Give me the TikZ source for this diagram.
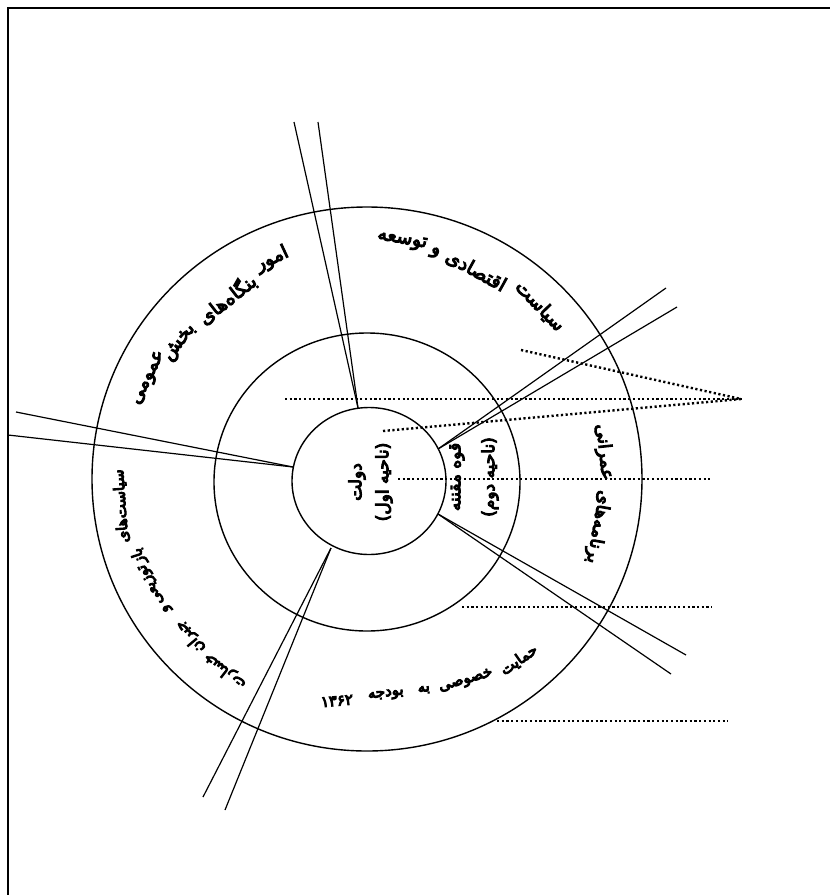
\documentclass[tikz,border=0pt]{standalone}
\usepackage{fontspec}
\usetikzlibrary{shapes.geometric}
\newfontfamily\arabicfont[Script=Arabic]{DejaVu Sans}
\TeXXeTstate=1
\newcommand\heavyon{\special{pdf:literal direct 2 Tr 1 w}}
\newcommand\heavyoff{\special{pdf:literal direct 0 Tr}}
\tikzset{
  ring/.style={draw, ellipse, line width=1.4pt, inner sep=0pt},
  ray/.style={line width=1.2pt},
  dots/.style={line width=2.4pt, dash pattern=on 2.2pt off 2.5pt},
  txt/.style={inner sep=0pt, execute at begin node=\heavyon, execute at end node=\heavyoff},
  fab/.style={txt, font=\arabicfont\fontsize{19}{21}\selectfont},
  far/.style={txt, font=\arabicfont\fontsize{18}{20}\selectfont},
  fam/.style={txt, font=\arabicfont\fontsize{17}{19}\selectfont},
  fas/.style={txt, font=\arabicfont\fontsize{15}{17}\selectfont},
}
\begin{document}
\begin{tikzpicture}[x=1pt,y=-1pt]
\useasboundingbox (0,0) rectangle (830,895);
\draw[line width=2pt] (8,895) -- (8,8) -- (830,8);
% rings
\node[ring, minimum width=550pt, minimum height=544pt] (outer) at (367,479) {};
\node[ring, minimum width=306pt, minimum height=298pt] (middle) at (367,482) {};
\node[ring, minimum width=154pt, minimum height=147pt] (inner) at (369,481) {};
% ray ends on inner circle
\coordinate (pT) at (358,408);
\coordinate (pL) at (293,467);
\coordinate (pUR) at (438,449);
\coordinate (pLR) at (438,514);
\coordinate (pB) at (331,548);
% free ends
\coordinate (t1) at (294,122); \coordinate (t2) at (318,122);
\coordinate (l1) at (16,412);  \coordinate (l2) at (8,435);
\coordinate (u1) at (666,288); \coordinate (u2) at (677,307);
\coordinate (r1) at (686,655); \coordinate (r2) at (671,674);
\coordinate (b1) at (203,797); \coordinate (b2) at (225,810);
\draw[ray] (t1) -- (pT); \draw[ray] (t2) -- (pT);
\draw[ray] (l1) -- (pL); \draw[ray] (l2) -- (pL);
\draw[ray] (u1) -- (pUR); \draw[ray] (u2) -- (pUR);
\draw[ray] (r1) -- (pLR); \draw[ray] (r2) -- (pLR);
\draw[ray] (b1) -- (pB); \draw[ray] (b2) -- (pB);
% dotted lines
\coordinate (apex) at (741,399);
\coordinate (da) at (285,399); \coordinate (db) at (521,350); \coordinate (dc) at (383,431);
\draw[dots] (da) -- (apex); \draw[dots] (db) -- (apex); \draw[dots] (dc) -- (apex);
\coordinate (dd1) at (398,479); \coordinate (dd2) at (710,479);
\coordinate (de1) at (462,607); \coordinate (de2) at (712,607);
\coordinate (df1) at (497,721); \coordinate (df2) at (728,721);
\draw[dots] (dd1) -- (dd2); \draw[dots] (de1) -- (de2); \draw[dots] (df1) -- (df2);
% centre texts
\node[fam, rotate=90] (c1) at (357,482) {\beginR دولت\endR};
\node[fam, rotate=90] (c2) at (384,482) {\beginR (ناحیه اول)\endR};
\node[fam, rotate=90] (m1) at (457,477) {\beginR قوه مقننه\endR};
\node[fam, rotate=90] (m2) at (490,477) {\beginR (ناحیه دوم)\endR};
% top right
\node[fab, rotate=-46] (w1) at (540,306) {\beginR سیاست\endR};
\node[fab, rotate=-29] (w2) at (476,271) {\beginR اقتصادی\endR};
\node[fab, rotate=-18] (w3) at (435,253) {\beginR و\endR};
\node[fab, rotate=-10] (w4) at (402,241) {\beginR توسعه\endR};
% top left
\node[fab, rotate=25] (a1) at (272,259) {\beginR امور\endR};
\node[fab, rotate=38] (a2) at (227,299) {\beginR بنگاه‌های\endR};
\node[fab, rotate=52] (a3) at (180,343) {\beginR بخش\endR};
\node[fab, rotate=64] (a4) at (149,378) {\beginR عمومی\endR};
% right
\node[far, rotate=-84] (e1) at (604,452) {\beginR عمرانی\endR};
\node[far, rotate=-100] (e2) at (598,527) {\beginR برنامه‌های\endR};
% lower left
\node[fas, rotate=94] (s1) at (121,506) {\beginR سیاست‌های\endR};
\node[fas, rotate=108] (s2) at (139,556) {\beginR باز\endR};
\node[fas, rotate=116] (s3) at (152,584) {\beginR توزیعی\endR};
\node[fas, rotate=124] (s4) at (167,608) {\beginR و\endR};
\node[fas, rotate=130] (s5) at (190,637) {\beginR جبران\endR};
\node[fas, rotate=142] (s6) at (225,671) {\beginR خسارت\endR};
% bottom
\node[fas, rotate=35] (b5) at (519,660) {\beginR حمایت\endR};
\node[fas, rotate=16] (b4) at (466,681) {\beginR خصوصی\endR};
\node[fas, rotate=10] (b3) at (424,690) {\beginR به\endR};
\node[fas, rotate=7] (b2) at (386,695) {\beginR بودجه\endR};
\node[fas, rotate=5] (b1) at (337,701) {\beginR ۱۳۶۲\endR};
\end{tikzpicture}
\end{document}
